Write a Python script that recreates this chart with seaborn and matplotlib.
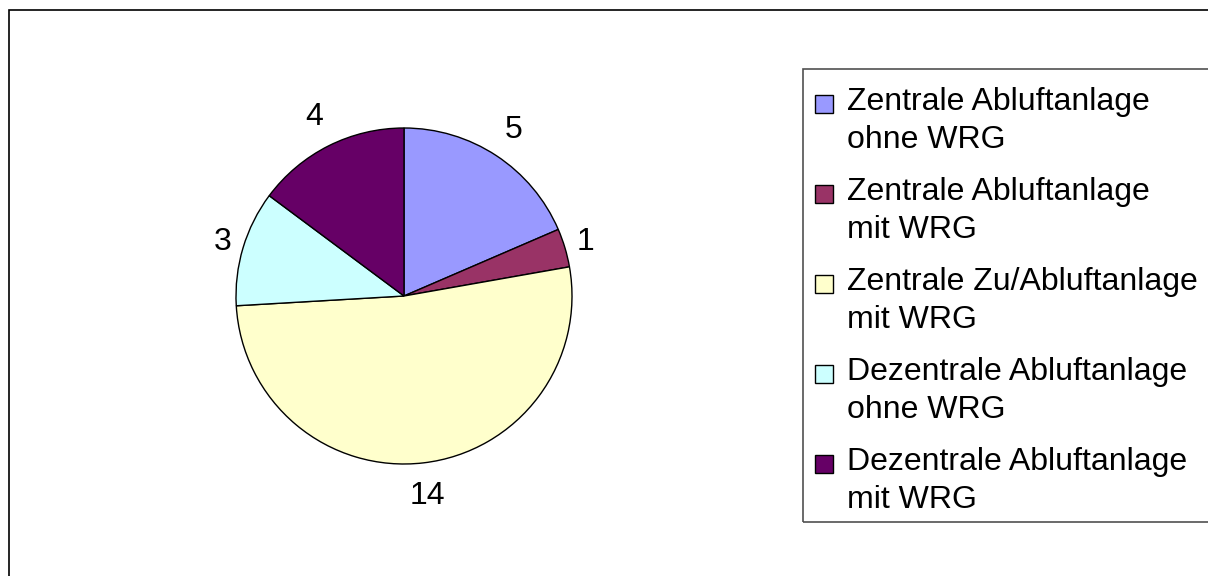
import numpy as np
import matplotlib
matplotlib.use("Agg")
import matplotlib.pyplot as plt
import seaborn as sns
from matplotlib.patches import Rectangle

categories = [
    "Zentrale Abluftanlage\nohne WRG",
    "Zentrale Abluftanlage\nmit WRG",
    "Zentrale Zu/Abluftanlage\nmit WRG",
    "Dezentrale Abluftanlage\nohne WRG",
    "Dezentrale Abluftanlage\nmit WRG",
]
values = [5, 1, 14, 3, 4]
colors = ["#9999FF", "#993366", "#FFFFCC", "#CCFFFF", "#660066"]

sns.set_theme(style="white")
plt.rcParams["font.family"] = ["Liberation Sans", "DejaVu Sans"]

W, H = 1208, 576
fig = plt.figure(figsize=(W / 100, H / 100), dpi=100)
fig.patch.set_facecolor("white")

# pie axes: centre and radius in pixels
cx, cy, R = 404, 296, 168
ax = fig.add_axes([(cx - R) / W, (H - cy - R) / H, 2 * R / W, 2 * R / H])
wedges, texts = ax.pie(
    values,
    colors=colors,
    startangle=90,
    counterclock=False,
    radius=1,
    labels=[str(v) for v in values],
    labeldistance=1.15,
    wedgeprops=dict(edgecolor="black", linewidth=1.0),
    textprops=dict(fontsize=23, color="black"),
)
ax.set_xlim(-1, 1)
ax.set_ylim(-1, 1)
ax.axis("off")
for w, t in zip(wedges, texts):
    th = np.deg2rad((w.theta1 + w.theta2) / 2)
    d = 1.1 + 0.1 * abs(np.sin(th))
    t.set_position((d * np.cos(th), d * np.sin(th)))
    t.set_ha("center")
    t.set_va("center")

# outer chart frame (right/bottom edges cut off)
fig.add_artist(Rectangle((9 / W, -0.1), 1.5, (H - 10) / H + 0.1,
                         transform=fig.transFigure, fill=False,
                         edgecolor="black", linewidth=1.2))

# legend frame
lt, lb, ll = 69, 522, 803
fig.add_artist(Rectangle((ll / W, (H - lb) / H), 1.0, (lb - lt) / H,
                         transform=fig.transFigure, fill=False,
                         edgecolor="#505050", linewidth=1.2))

base0, step, line_gap = 110, 90, 37.5
for i, (cat, col) in enumerate(zip(categories, colors)):
    by = base0 + step * i
    fig.add_artist(Rectangle((815 / W, (H - by - 3) / H), 18 / W, 18 / H,
                             transform=fig.transFigure, facecolor=col,
                             edgecolor="black", linewidth=1.0))
    for j, line in enumerate(cat.split("\n")):
        fig.text(847 / W, (H - by - j * line_gap) / H, line,
                 fontsize=23, color="black", ha="left", va="baseline")

fig.savefig("out.png", dpi=100, facecolor="white")
